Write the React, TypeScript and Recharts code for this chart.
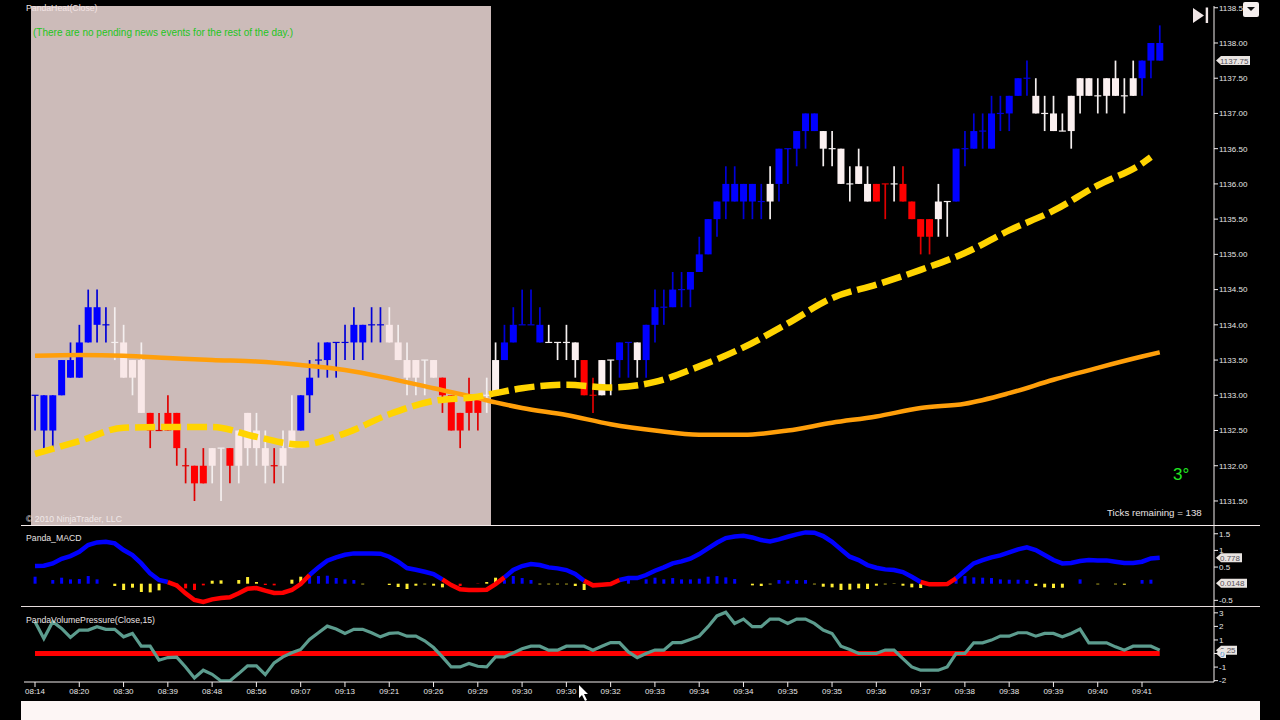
import React from "react";
import { ComposedChart, Bar, Line, XAxis, YAxis, ReferenceArea, ReferenceDot, Cell } from "recharts";

const timeLabels = ["08:14","08:20","08:30","08:39","08:48","08:56","09:07","09:13","09:21","09:26","09:29","09:30","09:30","09:32","09:33","09:34","09:34","09:35","09:35","09:36","09:37","09:38","09:38","09:39","09:40","09:41"];
const priceTicks = [1138.5,1138,1137.5,1137,1136.5,1136,1135.5,1135,1134.5,1134,1133.5,1133,1132.5,1132,1131.5];
const macdTicks = [1.5,1,0.5,-0.5];
const pressureTicks = [3,2,1,0,-1,-2];

const candleColour = ["bbbbbbbbb","wwww","rrrrrrr","ww","r","wwww","r","ww","bbbbbbbbbb","wwwwww","rrrrr","ww","bbbbb","wwww","rr","ww","bb","w","bbbbbbbbbbbbbb","w","bbbbb","wwwwww","rr","w","rrrr","ww","bbbbbbbbb","wwwwwwwwwwww","bbb"].join("");

const bodyTop = [1133,1133,1133,1133.5,1133.5,1133.75,1134.25,1134.25,1134,1133.75,
1133.75,1133.5,1133.5,1132.75,1132.5,1132.75,1132.75,1132,1132,1132,
1132.25,1132.25,1132.25,1132.5,1132.75,1132.5,1132.25,1132,1132.25,1132.5,
1133,1133.25,1133.5,1133.75,1133.75,1133.75,1134,1134,1134,1134,
1134,1133.75,1133.5,1133.5,1133.5,1133.5,1133.25,1133,1132.75,1133,
1133,1133,1133.5,1133.75,1134,1134,1134,1134,1133.75,1133.75,
1133.75,1133.75,1133.5,1133,1133.5,1133.5,1133.75,1133.75,1133.75,1134,
1134.25,1134.25,1134.5,1134.5,1134.75,1135,1135.5,1135.75,1136,1136,
1136,1136,1135.75,1136,1136.5,1136.5,1136.75,1137,1137,1136.75,
1136.5,1136.5,1136,1136.25,1136,1136,1136,1136,1136,1135.75,
1135.5,1135.5,1135.75,1135.75,1136.5,1136.5,1136.75,1136.75,1137,1137,
1137.25,1137.5,1137.5,1137.25,1137,1137,1136.75,1137.25,1137.5,1137.5,
1137.25,1137.5,1137.5,1137.25,1137.5,1137.75,1138,1138];

const bodyBottom = [1133,1132.5,1132.5,1133,1133.25,1133.25,1133.75,1134,1134,1133.75,
1133.25,1133.25,1132.75,1132.5,1132.5,1132.5,1132.25,1132,1131.75,1131.75,
1132,1132.25,1132,1132,1132.25,1132.25,1132,1132,1132,1132.25,
1132.5,1133,1133.5,1133.5,1133.75,1133.75,1133.75,1133.75,1134,1134,
1133.75,1133.5,1133.25,1133.25,1133.5,1133.25,1133,1132.5,1132.5,1132.75,
1132.75,1133,1133,1133.5,1133.75,1134,1134,1133.75,1133.75,1133.75,
1133.75,1133.5,1133,1133,1133,1133.5,1133.5,1133.75,1133.5,1133.5,
1134,1134.25,1134.25,1134.5,1134.5,1134.75,1135,1135.5,1135.75,1135.75,
1135.75,1135.75,1135.75,1135.75,1136,1136.5,1136.5,1136.75,1136.75,1136.5,
1136.5,1136,1136,1136,1135.75,1135.75,1136,1136,1135.75,1135.5,
1135.25,1135.25,1135.5,1135.75,1135.75,1136.5,1136.5,1136.75,1136.5,1137,
1137,1137.25,1137.5,1137,1137,1136.75,1136.75,1136.75,1137.25,1137.25,
1137.25,1137.25,1137.25,1137.25,1137.25,1137.5,1137.75,1137.75];

const wickHigh = [1133,1133,1133,1133.5,1133.75,1134,1134.5,1134.5,1134.25,1134.25,
1134,1133.5,1133.75,1132.75,1132.75,1133,1132.75,1132.25,1132,1132.25,
1132.25,1132.25,1132.25,1132.5,1132.75,1132.75,1132.5,1132.25,1132.5,1133,
1133,1133.5,1133.75,1133.75,1133.75,1134,1134.25,1134,1134.25,1134.25,
1134.25,1134,1133.75,1133.5,1133.5,1133.5,1133.25,1133,1132.75,1133.25,
1133,1133.25,1133.75,1134,1134.25,1134.5,1134.5,1134.25,1134,1133.75,
1134,1133.75,1133.5,1133.25,1133.5,1133.5,1133.75,1133.75,1133.75,1134,
1134.5,1134.5,1134.75,1134.75,1134.75,1135.25,1135.5,1135.75,1136.25,1136.25,
1136,1136,1136,1136.25,1136.5,1136.5,1136.75,1137,1137,1136.75,
1136.75,1136.5,1136.25,1136.5,1136.25,1136,1136,1136.25,1136.25,1135.75,
1135.5,1135.5,1136,1135.75,1136.5,1136.75,1137,1137,1137.25,1137.25,
1137.25,1137.5,1137.75,1137.5,1137.25,1137.25,1137,1137.25,1137.5,1137.5,
1137.5,1137.5,1137.75,1137.5,1137.75,1137.75,1138,1138.25];

const wickLow = [1132.5,1132.25,1132.25,1133,1133.25,1133.25,1133.75,1133.75,1133.75,1133.5,
1133.25,1133,1132.75,1132.25,1132.5,1132.5,1132,1131.75,1131.5,1131.75,
1131.75,1131.5,1131.75,1131.75,1132,1132,1131.75,1131.75,1131.75,1132.25,
1132.5,1132.75,1133.25,1133.25,1133.25,1133.5,1133.5,1133.5,1133.75,1133.75,
1133.75,1133.5,1133,1133,1133,1133.25,1132.75,1132.5,1132.25,1132.5,
1132.5,1132.75,1133,1133.5,1133.75,1134,1134,1133.75,1133.75,1133.5,
1133.5,1133.25,1133,1132.75,1133,1133,1133.25,1133.25,1133.25,1133.25,
1133.75,1134,1134.25,1134.25,1134.25,1134.75,1135,1135.25,1135.5,1135.75,
1135.5,1135.5,1135.5,1135.5,1135.75,1136,1136.25,1136.5,1136.75,1136.25,
1136.25,1136,1135.75,1136,1135.75,1135.75,1135.5,1135.75,1135.75,1135.5,
1135,1135,1135.25,1135.25,1135.75,1136.25,1136.5,1136.5,1136.5,1136.75,
1136.75,1137.25,1137.25,1137,1136.75,1136.75,1136.75,1136.5,1137,1137.25,
1137,1137,1137.25,1137,1137.25,1137.25,1137.5,1137.75];

const maBars = [0,5,10,15,20,25,30,35,40,45,50,52,55,60,65,70,75,80,85,90,95,100,105,110,115,120,125,126];
const fastAverage = [1132.17,1132.35,1132.54,1132.55,1132.55,1132.41,1132.30,1132.46,1132.73,1132.92,1132.98,1133.03,1133.10,1133.15,1133.11,1133.19,1133.41,1133.68,1134.02,1134.38,1134.57,1134.78,1135.02,1135.34,1135.62,1135.98,1136.29,1136.38];
const slowBars = [0,5,10,15,20,25,30,35,40,45,50,52,55,60,65,70,75,80,85,90,95,100,105,110,115,120,125,127];
const slowAverage = [1133.56,1133.57,1133.56,1133.53,1133.50,1133.48,1133.43,1133.36,1133.24,1133.10,1132.96,1132.90,1132.82,1132.72,1132.59,1132.50,1132.44,1132.44,1132.50,1132.61,1132.70,1132.82,1132.88,1133.03,1133.22,1133.39,1133.55,1133.61];

const macdLine = [.53,.54,.61,.75,.83,.96,1.16,1.24,1.26,1.21,
1.01,.86,.61,.31,.11,.05,-.05,-.29,-.49,-.55,
-.47,-.43,-.41,-.29,-.15,-.13,-.21,-.28,-.27,-.19,
-.01,.26,.49,.69,.79,.87,.91,.91,.91,.90,
.81,.66,.47,.42,.36,.29,.13,-.04,-.17,-.19,
-.19,-.18,-.01,.19,.41,.53,.59,.56,.49,.46,
.41,.29,.09,-.05,-.03,-.01,.11,.17,.17,.26,
.39,.49,.61,.67,.75,.89,1.06,1.23,1.37,1.42,
1.44,1.39,1.31,1.27,1.33,1.41,1.48,1.54,1.53,1.43,
1.26,1.03,.81,.71,.56,.48,.43,.41,.35,.21,
.05,-.02,-.02,-.01,.16,.39,.61,.71,.79,.85,
.94,1.03,1.09,1.01,.86,.71,.61,.62,.68,.71,
.70,.70,.66,.62,.62,.66,.76,.78];

const macdHistogram = [.21,0,.11,.18,.13,.14,.23,.13,0,-.07,
-.19,-.12,-.25,-.26,-.20,0,-.11,-.14,-.19,-.05,
.09,.10,0,.11,.20,.05,-.04,-.05,0,.12,
.21,.21,.23,.24,.17,.13,.11,-.02,0,0,
-.04,-.10,-.16,-.06,-.02,-.06,-.11,0,-.07,0,
-.01,.05,.18,.11,.23,.17,.11,-.02,-.02,-.02,
-.02,-.07,-.19,0,0,0,0,.21,0,.13,
.18,.13,.17,.13,.13,.15,.21,.23,.19,.14,
0,-.05,-.07,-.02,.11,.09,.11,.11,-.02,-.09,
-.11,-.19,-.18,-.14,-.16,-.06,-.02,-.01,-.06,-.11,
-.13,0,0,0,.23,.23,.19,.18,.17,.13,
.12,.12,.11,-.07,-.11,-.13,-.12,0,.13,0,
-.02,0,-.02,-.03,0,.11,.12,0];

const volumePressure = [2.35,1.11,2.35,1.85,1.19,1.73,1.73,1.98,1.78,1.78,
1.23,1.48,.54,.54,-.49,-.30,-.27,-.99,-1.80,-1.23,
-1.53,-2.02,-2.02,-1.48,-.91,-.91,-1.56,-.69,-.25,.05,
.30,1.04,1.53,2.02,1.80,1.48,1.78,1.78,1.53,1.23,
1.48,1.53,1.28,1.28,.94,.44,-.25,-.99,-.99,-.74,
-.94,-.99,-.25,-.25,.05,.35,.54,.54,.25,.25,
.54,.54,.54,.25,.54,.81,.81,.12,-.30,0,
.25,.25,.81,.81,1.04,1.28,1.98,2.77,3.04,2.22,
2.54,1.98,1.98,2.54,2.54,2.22,2.54,2.54,2.22,1.73,
1.48,.54,.30,0,0,0,.25,.25,-.37,-.99,
-1.23,-1.23,-1.23,-.99,0,0,.79,.79,.99,1.28,
1.28,1.53,1.53,1.28,1.48,1.48,1.23,1.48,1.80,.79,
.79,.79,.49,.25,.54,.54,.54,.25];

const BLUE = "#0000ff", RED = "#ff0000", YELLOW = "#ffd400", ORANGE = "#ff9f0a", TEAL = "#5c9c8e", HIST_YELLOW = "#ffee33";
const AXIS = "#f3eeee";
const SANS = "'Liberation Sans', Arial, sans-serif";

const rows = bodyTop.map((_, i) => {
  const m = macdLine[i];
  const prev = macdLine[i - 1] ?? m;
  const next = macdLine[i + 1] ?? m;
  const fa = maBars.indexOf(i);
  const sa = slowBars.indexOf(i);
  return {
    i,
    range: [wickLow[i], wickHigh[i]],
    top: bodyTop[i],
    bottom: bodyBottom[i],
    high: wickHigh[i],
    low: wickLow[i],
    state: candleColour[i],
    fast: fa >= 0 ? fastAverage[fa] : null,
    slow: sa >= 0 ? slowAverage[sa] : null,
    macdUp: m >= 0 ? m : null,
    macdDown: m < 0 || prev < 0 || next < 0 ? m : null,
    hist: macdHistogram[i],
    pressure: volumePressure[i],
    level: 0,
  };
});

const histColour = (m: number, h: number) => (h > 0 && m > 0 ? BLUE : h < 0 && m < 0 ? RED : HIST_YELLOW);

const Candle = (p: any) => {
  const { x, y, width, height, payload } = p;
  const d = payload;
  const perUnit = height / (d.high - d.low);
  const yOf = (v: number) => y + (d.high - v) * perUnit;
  const cx = x + width / 2;
  const pale = d.i < 52 ? "#f9e8e8" : "#fbf0f0";
  const body = d.state === "b" ? BLUE : d.state === "r" ? RED : pale;
  const wick = d.state === "b" ? "#0000d8" : d.state === "r" ? "#e00000" : "#f4efef";
  const t = yOf(d.top);
  const b = yOf(d.bottom);
  return (
    <g>
      <line x1={cx} x2={cx} y1={y} y2={y + height} stroke={wick} strokeWidth={1.7} />
      {d.top === d.bottom ? (
        <line x1={x} x2={x + width} y1={t} y2={t} stroke={wick} strokeWidth={1.2} />
      ) : (
        <rect x={x} y={t} width={width} height={b - t} fill={body} />
      )}
    </g>
  );
};

const makeTag = (text: string, w: number, colour = "#55505a") => (p: any) => {
  const { cx, cy } = p;
  const l = cx + 2;
  return (
    <g>
      <polygon points={`${l},${cy} ${l + 5},${cy - 4.5} ${l + w},${cy - 4.5} ${l + w},${cy + 4.5} ${l + 5},${cy + 4.5}`} fill="#e9e4e1" />
      <text x={l + 4} y={cy + 3} fontSize={8} fontFamily={SANS} fill={colour}>{text}</text>
    </g>
  );
};

const X_DOMAIN: [number, number] = [-1.2421, 133.13];
const xTicks = timeLabels.map((_, k) => k * 5);
const tickStyle = { fontSize: 8, fontFamily: SANS, fill: "#e6e6e6" };

const yAxisProps = {
  orientation: "right" as const,
  width: 66,
  type: "number" as const,
  allowDataOverflow: true,
  interval: 0 as const,
  tickSize: 4,
  tickMargin: 1,
  tick: tickStyle,
  stroke: AXIS,
  axisLine: { stroke: AXIS, strokeWidth: 1 },
  tickLine: { stroke: AXIS },
};

const label = (text: string, left: number, top: number, extra: React.CSSProperties = {}) => (
  <div style={{ position: "absolute", left, top, fontFamily: SANS, fontSize: 8.7, lineHeight: "10px", color: "#e9e2e2", whiteSpace: "nowrap", ...extra }}>{text}</div>
);

export default function App() {
  return (
    <div style={{ position: "fixed", left: 0, top: 0, width: 1280, height: 720, background: "#000", overflow: "hidden" }}>
      <div style={{ position: "absolute", left: 0, top: 6 }}>
        <ComposedChart width={1280} height={519} data={rows} margin={{ top: 0, right: 0, bottom: 0, left: 24 }} barGap={0}>
          <ReferenceArea x1={-0.452} x2={51.49} fill="#ccbbb9" fillOpacity={1} stroke="none" ifOverflow="hidden" />
          <XAxis dataKey="i" type="number" domain={X_DOMAIN} allowDataOverflow hide />
          <YAxis {...yAxisProps} domain={[1131.159, 1138.525]} ticks={priceTicks} tickFormatter={(v: number) => v.toFixed(2)} />
          <Bar dataKey="range" barSize={7} shape={Candle} isAnimationActive={false} />
          <Line dataKey="slow" type="monotone" stroke={ORANGE} strokeWidth={4.5} dot={false} connectNulls isAnimationActive={false} />
          <Line dataKey="fast" type="monotone" stroke={YELLOW} strokeWidth={6.5} strokeDasharray="20 6" dot={false} connectNulls isAnimationActive={false} />
          <ReferenceDot x={133.13} y={1137.75} ifOverflow="visible" shape={makeTag("1137.75", 34)} />
        </ComposedChart>
      </div>

      <div style={{ position: "absolute", left: 0, top: 526 }}>
        <ComposedChart width={1280} height={80} data={rows} margin={{ top: 0, right: 0, bottom: 0, left: 24 }}>
          <XAxis dataKey="i" type="number" domain={X_DOMAIN} allowDataOverflow hide />
          <YAxis {...yAxisProps} domain={[-0.67, 1.733]} ticks={macdTicks} />
          <Bar dataKey="hist" barSize={3} isAnimationActive={false}>
            {rows.map((r) => (
              <Cell key={r.i} fill={histColour(macdLine[r.i], r.hist)} />
            ))}
          </Bar>
          <Line dataKey="macdUp" type="linear" stroke={BLUE} strokeWidth={4.5} dot={false} isAnimationActive={false} />
          <Line dataKey="macdDown" type="linear" stroke={RED} strokeWidth={4.5} dot={false} isAnimationActive={false} />
          <ReferenceDot x={133.13} y={0.778} ifOverflow="visible" shape={makeTag("0.778", 26)} />
          <ReferenceDot x={133.13} y={0.0148} ifOverflow="visible" shape={makeTag("0.0148", 31)} />
        </ComposedChart>
      </div>

      <div style={{ position: "absolute", left: 0, top: 607 }}>
        <ComposedChart width={1280} height={93} data={rows} margin={{ top: 0, right: 0, bottom: 0, left: 24 }}>
          <XAxis
            dataKey="i"
            type="number"
            domain={X_DOMAIN}
            allowDataOverflow
            ticks={xTicks}
            interval={0}
            height={18}
            tickSize={5}
            tickMargin={1}
            tick={tickStyle}
            axisLine={{ stroke: AXIS }}
            tickLine={{ stroke: AXIS }}
            tickFormatter={(v: number) => timeLabels[v / 5]}
          />
          <YAxis {...yAxisProps} domain={[-2.1, 3.43]} ticks={pressureTicks} />
          <Line dataKey="level" type="linear" stroke={RED} strokeWidth={5} dot={false} isAnimationActive={false} />
          <Line dataKey="pressure" type="linear" stroke={TEAL} strokeWidth={3.2} dot={false} isAnimationActive={false} />
          <ReferenceDot x={133.13} y={0.25} ifOverflow="visible" shape={makeTag("0.25", 21)} />
          <ReferenceDot x={133.13} y={0} ifOverflow="visible" shape={makeTag("0", 10, "#2f7fd0")} />
        </ComposedChart>
      </div>

      {/* pane dividers, footer band and window furniture */}
      <div style={{ position: "absolute", left: 21, top: 525, width: 1239, height: 1, background: "#f5ecec" }} />
      <div style={{ position: "absolute", left: 21, top: 606, width: 1239, height: 1, background: "#e6dcdc" }} />
      <div style={{ position: "absolute", left: 21, top: 701, width: 1239, height: 19, background: "#fdf6f5" }} />
      <div style={{ position: "absolute", left: 1243, top: 2, width: 16, height: 15, borderRadius: 2, background: "#f5efee" }}>
        <div style={{ position: "absolute", left: 4, top: 5, width: 0, height: 0, borderLeft: "4px solid transparent", borderRight: "4px solid transparent", borderTop: "4px solid #111" }} />
      </div>
      <svg style={{ position: "absolute", left: 0, top: 0, pointerEvents: "none" }} width={1280} height={720}>
        <polygon points="1193,8 1204,15.5 1193,23" fill="#f0e6e6" />
        <rect x={1205.7} y={7.5} width={2.4} height={15.5} fill="#f0e6e6" />
        <polygon points="579,685 579,698 582,695 585,701 587,700 584,694 588,694" fill="#ffffff" />
      </svg>

      {label("PandaHeat(Close)", 26, 3, { color: "#f2e3e3" })}
      {label("(There are no pending news events for the rest of the day.)", 33, 27, { color: "#22c522", fontSize: 10, lineHeight: "12px" })}
      {label("© 2010 NinjaTrader, LLC", 26, 514, { color: "#f0e8e8" })}
      {label("Panda_MACD", 26, 533)}
      {label("PandaVolumePressure(Close,15)", 26, 615)}
      {label("Ticks remaining = 138", 1107, 507, { fontSize: 9.7, lineHeight: "12px" })}
      {label("3°", 1173, 465, { color: "#22e822", fontSize: 17, lineHeight: "20px" })}
    </div>
  );
}
